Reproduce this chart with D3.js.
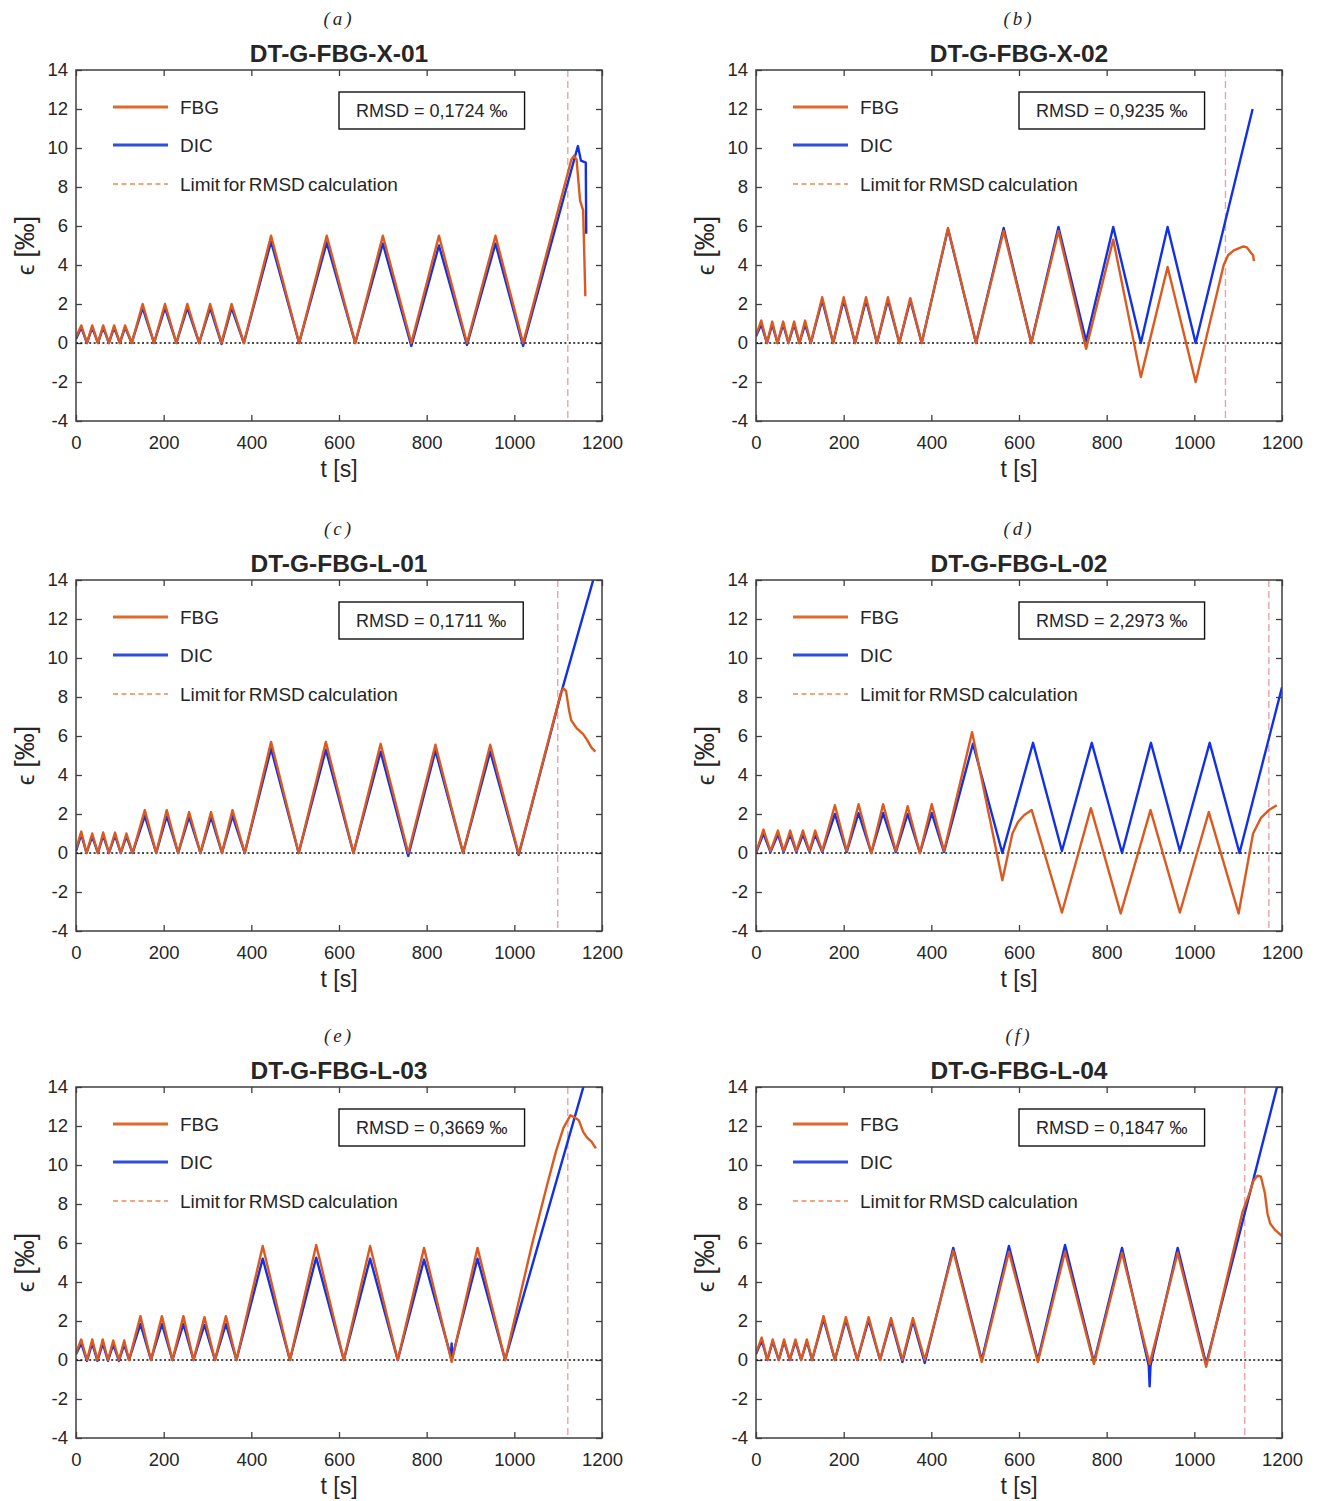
<!DOCTYPE html>
<html lang="en">
<head>
<meta charset="UTF-8">
<script src="https://cdn.jsdelivr.net/npm/d3@7"></script>
<style>
  body { margin: 0; background: #fff; }
  text { font-family: "Liberation Sans", Arial, Helvetica, sans-serif; fill: #262626; }
</style>
</head>
<body>
<div id="container"></div>
<script>
const width = 1319;
const height = 1501;

// axis ticks
const xTicks = [0, 200, 400, 600, 800, 1000, 1200];
const yTicks = [-4, -2, 0, 2, 4, 6, 8, 10, 12, 14];

// panels
const panelLetters = ["a", "b", "c", "d", "e", "f"];
const panelTitles = ["DT-G-FBG-X-01", "DT-G-FBG-X-02", "DT-G-FBG-L-01", "DT-G-FBG-L-02", "DT-G-FBG-L-03", "DT-G-FBG-L-04"];
const rmsdValues = ["0,1724", "0,9235", "0,1711", "2,2973", "0,3669", "0,1847"];
const limitTimes = [1122, 1071, 1099, 1170, 1122, 1115];
const legendLabels = ["FBG", "DIC", "Limit for RMSD calculation"];

// series: [t (s), strain (permille)]
const fbgA = [[0,0.3],[12,0.9],[25,0],[37,0.9],[50,0],[62,0.9],[75,0],[87,0.9],[100,0],[112,0.9],[127,0],
  [152,2.0],[178,0],[203,2.0],[229,0],[254,2.0],[281,0],[306,2.0],[332,0],[355,2.0],[383,0],
  [445,5.5],[509,0],[572,5.5],[637,0],[700,5.5],[765,0],[828,5.5],[892,0],[957,5.5],[1020,0],
  [1130,9.4],[1136,9.6],[1142,9.4],[1150,7.3],[1157,6.8],[1162,2.4]];
const dicA = [[0,0.2],[12,0.8],[25,0],[37,0.8],[50,0],[62,0.8],[75,0],[87,0.8],[100,0],[112,0.8],[127,0],
  [152,1.8],[178,0],[203,1.8],[229,0],[254,1.8],[281,0],[306,1.8],[332,-0.05],[355,1.8],[383,0],
  [445,5.2],[509,0],[572,5.15],[637,0],[700,5.1],[765,-0.15],[828,5.0],[892,-0.1],[957,5.1],[1020,-0.15],
  [1145,10.1],[1152,9.35],[1163,9.25],[1164,5.6]];

const fbgB = [[0,0.4],[12,1.15],[25,0],[37,1.1],[49,0],[62,1.1],[74,0],[87,1.1],[99,0],[112,1.15],[125,0],
  [151,2.35],[176,0],[200,2.35],[226,0],[251,2.35],[276,0],[301,2.35],[327,0],[352,2.3],[378,0],
  [438,5.9],[502,0],[565,5.75],[628,0],[690,5.75],[753,-0.3],[815,5.3],[878,-1.75],[939,3.9],[1003,-2.0],
  [1067,4.0],[1077,4.5],[1090,4.75],[1101,4.85],[1112,4.95],[1120,4.9],[1130,4.6],[1134,4.5],[1136,4.2]];
const dicB = [[0,0.35],[12,0.95],[25,0],[37,0.95],[49,0],[62,0.95],[74,0],[87,0.95],[99,0],[112,0.95],[125,0],
  [151,2.2],[176,0],[200,2.2],[226,0],[251,2.2],[276,0],[301,2.2],[327,0],[352,2.2],[378,0],
  [438,5.85],[502,0],[565,5.9],[628,0],[690,5.95],[753,0.1],[815,5.95],[878,0],[939,5.95],[1003,0],[1133,12.0]];

const fbgC = [[0,0.2],[12,1.1],[24,0],[37,1.0],[50,0],[62,1.05],[75,0],[89,1.05],[102,0],[115,1.0],[129,0],
  [157,2.2],[183,0],[207,2.2],[233,0],[258,2.1],[284,0],[308,2.1],[333,0],[357,2.2],[385,0],
  [445,5.7],[508,0],[570,5.7],[633,0],[695,5.6],[758,0],[820,5.55],[883,0],[945,5.55],[1010,-0.05],
  [1106,8.2],[1112,8.45],[1118,8.3],[1125,7.3],[1130,6.8],[1142,6.4],[1157,6.1],[1166,5.8],[1176,5.4],[1185,5.2]];
const dicC = [[0,0.1],[12,0.95],[24,0],[37,0.85],[50,0],[62,0.9],[75,0],[89,0.9],[102,0],[115,0.85],[129,0],
  [157,1.9],[183,0],[207,1.9],[233,0],[258,1.85],[284,0],[308,1.85],[333,0],[357,1.9],[385,0],
  [445,5.35],[508,0],[570,5.3],[633,0],[695,5.2],[758,-0.15],[820,5.25],[883,0],[945,5.2],[1010,-0.1],
  [1108,8.3],[1185,14.4]];

const fbgD = [[0,0],[17,1.2],[33,0.1],[50,1.15],[63,0.1],[78,1.15],[92,0.1],[107,1.15],[122,0.1],[135,1.15],[151,0.1],
  [180,2.45],[207,0.1],[234,2.5],[263,0],[290,2.5],[319,0.1],[346,2.4],[374,0],[401,2.5],[429,0.1],
  [493,6.2],[562,-1.4],[585,1.0],[598,1.6],[612,1.95],[629,2.2],[698,-3.05],[764,2.3],[832,-3.1],
  [900,2.2],[967,-3.05],[1033,2.1],[1101,-3.1],[1134,1.0],[1152,1.8],[1170,2.2],[1188,2.45]];
const dicD = [[0,0],[17,1.0],[33,0.05],[50,0.95],[63,0.05],[78,0.95],[92,0.05],[107,0.95],[122,0.05],[135,0.95],[151,0.05],
  [180,2.0],[207,0.05],[234,2.05],[263,0],[290,2.05],[319,0.05],[346,2.0],[374,0],[401,2.05],[429,0.05],
  [495,5.6],[562,0],[632,5.65],[698,0.1],[766,5.65],[835,0],[901,5.65],[967,0.1],[1035,5.65],[1103,0],[1200,8.5]];

const fbgE = [[0,0.35],[12,1.05],[25,0],[37,1.05],[49,0],[61,1.05],[73,0],[85,1.0],[98,0],[110,1.0],[121,0],
  [147,2.25],[171,0],[196,2.25],[220,0],[245,2.25],[268,0],[293,2.2],[317,0],[342,2.25],[366,0],
  [426,5.85],[488,0],[548,5.9],[611,0],[671,5.85],[734,0],[794,5.75],[857,-0.1],[916,5.75],[979,0],
  [1040,5.9],[1075,9.0],[1095,10.7],[1112,11.9],[1128,12.55],[1137,12.45],[1147,12.3],[1157,11.7],[1166,11.4],[1176,11.2],[1186,10.85]];
const dicE = [[0,0.3],[12,0.85],[25,-0.05],[37,0.85],[49,-0.05],[61,0.85],[73,-0.05],[85,0.8],[98,-0.05],[110,0.8],[121,0],
  [147,1.85],[171,0],[196,1.85],[220,0],[245,1.85],[268,0],[293,1.8],[317,0],[342,1.85],[366,0],
  [426,5.2],[488,0],[548,5.25],[611,0],[671,5.2],[734,0],[794,5.15],[855,0.2],[857,0.85],[858,0.1],[916,5.2],[979,0],[1160,14.2]];

const fbgF = [[0,0.35],[13,1.15],[26,0],[38,1.05],[52,0],[64,1.05],[77,0],[90,1.05],[103,0],[116,1.05],[128,0],
  [154,2.25],[180,0],[205,2.2],[231,0],[257,2.2],[283,0],[308,2.15],[334,0],[358,2.15],[385,0],
  [450,5.6],[515,-0.1],[577,5.55],[643,-0.1],[705,5.55],[771,-0.2],[835,5.5],[898,-0.2],[962,5.5],[1027,-0.35],
  [1110,7.6],[1125,8.5],[1135,9.2],[1144,9.45],[1152,9.4],[1161,8.55],[1167,7.5],[1173,7.0],[1183,6.7],[1200,6.35]];
const dicF = [[0,0.3],[13,1.0],[26,0],[38,0.95],[52,0],[64,0.95],[77,0],[90,0.95],[103,0],[116,0.95],[128,0],
  [154,2.1],[180,0],[205,2.05],[231,0],[257,2.05],[283,0],[308,2.0],[334,-0.1],[358,2.0],[385,-0.15],
  [450,5.75],[515,0],[577,5.85],[643,0],[705,5.9],[771,-0.1],[835,5.75],[896,-0.3],[898,-1.35],[900,-0.3],[962,5.75],[1027,-0.2],[1192,14.3]];

const fbgSeries = [fbgA, fbgB, fbgC, fbgD, fbgE, fbgF];
const dicSeries = [dicA, dicB, dicC, dicD, dicE, dicF];

// colours
const fbgColor = "#da5a1f";
const dicColor = "#1230e6";
const limitColor = "#e8a3aa";
const axisColor = "#3f3f3f";

// layout of the plot boxes
const plotW = 526;
const plotH = 351;
const colX = [76, 756];
const rowY = [70, 580, 1087];

const svg = d3.create("svg")
    .attr("width", width)
    .attr("height", height);

svg.append("rect")
    .attr("width", width)
    .attr("height", height)
    .attr("fill", "#fff");

document.getElementById("container").appendChild(svg.node());

const defs = svg.append("defs");

panelLetters.forEach((letter, i) => {
  const left = colX[i % 2];
  const top = rowY[Math.floor(i / 2)];

  const x = d3.scaleLinear().domain([0, 1200]).range([left, left + plotW]);
  const y = d3.scaleLinear().domain([-4, 14]).range([top + plotH, top]);

  const g = svg.append("g");

  defs.append("clipPath").attr("id", "clip" + i)
    .append("rect")
      .attr("x", left).attr("y", top)
      .attr("width", plotW).attr("height", plotH);

  // axes with inward ticks on all sides
  const fmt = d => String(d);
  const styleAxis = sel => {
    sel.select(".domain").remove();
    sel.selectAll(".tick line").attr("stroke", axisColor).attr("stroke-width", 1.3);
    sel.selectAll(".tick text").style("font-size", "18.5px").attr("fill", "#262626");
  };

  g.append("g")
      .attr("transform", `translate(0,${top + plotH})`)
      .call(d3.axisBottom(x).tickValues(xTicks).tickSize(-6).tickPadding(15).tickFormat(fmt))
      .call(styleAxis);
  g.append("g")
      .attr("transform", `translate(0,${top})`)
      .call(d3.axisTop(x).tickValues(xTicks).tickSize(-6).tickFormat(""))
      .call(styleAxis);
  g.append("g")
      .attr("transform", `translate(${left},0)`)
      .call(d3.axisLeft(y).tickValues(yTicks).tickSize(-6).tickPadding(8).tickFormat(fmt))
      .call(styleAxis);
  g.append("g")
      .attr("transform", `translate(${left + plotW},0)`)
      .call(d3.axisRight(y).tickValues(yTicks).tickSize(-6).tickFormat(""))
      .call(styleAxis);

  const plot = g.append("g").attr("clip-path", `url(#clip${i})`);

  // zero line
  plot.append("line")
      .attr("x1", x(0)).attr("x2", x(1200))
      .attr("y1", y(0)).attr("y2", y(0))
      .attr("stroke", "#111")
      .attr("stroke-width", 1.7)
      .attr("stroke-dasharray", "2,2.4");

  // limit for RMSD
  plot.append("line")
      .attr("x1", x(limitTimes[i])).attr("x2", x(limitTimes[i]))
      .attr("y1", y(14)).attr("y2", y(-4))
      .attr("stroke", limitColor)
      .attr("stroke-width", 1.4)
      .attr("stroke-dasharray", "7,4");

  const line = d3.line().x(d => x(d[0])).y(d => y(d[1]));

  plot.append("path")
      .datum(dicSeries[i])
      .attr("d", line)
      .attr("fill", "none")
      .attr("stroke", dicColor)
      .attr("stroke-width", 2.4)
      .attr("stroke-linejoin", "round");

  plot.append("path")
      .datum(fbgSeries[i])
      .attr("d", line)
      .attr("fill", "none")
      .attr("stroke", fbgColor)
      .attr("stroke-width", 2.4)
      .attr("stroke-linejoin", "round");

  // box
  g.append("rect")
      .attr("x", left).attr("y", top)
      .attr("width", plotW).attr("height", plotH)
      .attr("fill", "none")
      .attr("stroke", axisColor)
      .attr("stroke-width", 1.5);

  // legend
  const legendY = [top + 37, top + 75, top + 114];
  legendLabels.forEach((lab, k) => {
    g.append("line")
        .attr("x1", left + 37).attr("x2", left + 92)
        .attr("y1", legendY[k]).attr("y2", legendY[k])
        .attr("stroke", k === 0 ? "#e06a2c" : (k === 1 ? "#2d4fe0" : "#eb8a55"))
        .attr("stroke-width", k === 2 ? 1.4 : 3)
        .attr("stroke-dasharray", k === 2 ? "5,3.5" : null);
    g.append("text")
        .attr("x", left + 104)
        .attr("y", legendY[k] + 6.5)
        .style("font-size", "19px")
        .style("word-spacing", k === 2 ? "-2px" : null)
        .text(lab);
  });

  // RMSD box
  const boxX = left + 263;
  const box = g.append("rect")
      .attr("x", boxX).attr("y", top + 22)
      .attr("height", 37)
      .attr("fill", "#fff")
      .attr("stroke", "#111")
      .attr("stroke-width", 1.4);
  const rmsdText = g.append("text")
      .attr("y", top + 46.5)
      .attr("text-anchor", "middle")
      .style("font-size", "18px")
      .text(`RMSD = ${rmsdValues[i]} ‰`);
  const boxW = rmsdText.node().getComputedTextLength() + 34;
  box.attr("width", boxW);
  rmsdText.attr("x", boxX + boxW / 2);

  // title and panel letter
  g.append("text")
      .attr("x", left + plotW / 2)
      .attr("y", top - 8)
      .attr("text-anchor", "middle")
      .style("font-size", "24.5px")
      .style("font-weight", "bold")
      .attr("fill", "#111")
      .text(panelTitles[i]);

  g.append("text")
      .attr("x", left + plotW / 2)
      .attr("y", top - 45)
      .attr("text-anchor", "middle")
      .style("font-family", "'Liberation Serif', 'Times New Roman', serif")
      .style("font-style", "italic")
      .style("font-size", "19px")
      .style("letter-spacing", "3px")
      .text(`(${letter})`);

  // axis labels
  g.append("text")
      .attr("x", left + plotW / 2)
      .attr("y", top + plotH + 56)
      .attr("text-anchor", "middle")
      .style("font-size", "23px")
      .text("t [s]");

  const yLab = g.append("text")
      .attr("transform", `translate(${left - 51},${top + plotH / 2}) rotate(-90)`)
      .attr("dy", "0.35em")
      .attr("text-anchor", "middle")
      .style("font-size", "27px");
  yLab.append("tspan").style("font-size", "24px").text("ϵ  ");
  yLab.append("tspan").text("[‰]");
});
</script>
</body>
</html>
